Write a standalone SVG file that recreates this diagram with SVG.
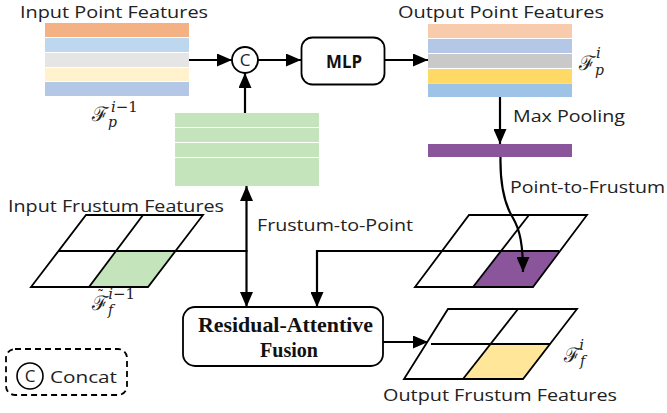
<svg xmlns="http://www.w3.org/2000/svg" width="667" height="413" viewBox="0 0 667 413">
<defs>
<marker id="ah" markerUnits="userSpaceOnUse" markerWidth="15" markerHeight="13" refX="15" refY="6.5" orient="auto-start-reverse" viewBox="0 0 15 13">
<path d="M0,0 L15,6.5 L0,13 z" fill="#000"/>
</marker>
<style>
.lbl{font-family:"Open Sans","Noto Sans",sans-serif;font-size:17px;fill:#222}
.mth{font-family:"DejaVu Serif","Liberation Serif",serif;fill:#222}
.grid{fill:none;stroke:#000;stroke-width:1.8;stroke-linejoin:miter}
.con{fill:none;stroke:#000;stroke-width:2.2}
.box{fill:#fff;stroke:#000;stroke-width:1.8}
.rf{font-family:"Liberation Serif",serif;font-weight:bold;font-size:21px;fill:#111}
</style>
</defs>
<rect width="667" height="413" fill="#fff"/>

<g id="input-point-features">
<text class="lbl" x="20" y="17.5" textLength="188" lengthAdjust="spacingAndGlyphs">Input Point Features</text>
<rect x="45" y="23" width="144" height="14" fill="#F4B183"/>
<rect x="45" y="38" width="144" height="14" fill="#BDD7EE"/>
<rect x="45" y="53" width="144" height="14" fill="#E5E5E5"/>
<rect x="45" y="68" width="144" height="13" fill="#FFF2CC"/>
<rect x="45" y="82" width="144" height="14" fill="#B4C7E7"/>
<text class="mth" x="92" y="121" font-size="20">ℱ<tspan font-size="14" font-style="italic" dy="6">p</tspan><tspan font-size="15" font-style="italic" dx="-6" dy="-15">i</tspan><tspan font-size="15">−1</tspan></text>
</g>

<g id="concat-op">
<circle cx="245" cy="60" r="13" fill="#fff" stroke="#000" stroke-width="1.8"/>
<text class="lbl" x="245" y="65.5" font-size="15" text-anchor="middle">C</text>
</g>

<g id="frustum-to-point-features">
<rect x="175" y="113" width="144" height="73" fill="#C4E5BC"/>
<line x1="175" y1="127.5" x2="319" y2="127.5" stroke="#fff" stroke-width="1"/>
<line x1="175" y1="142.5" x2="319" y2="142.5" stroke="#fff" stroke-width="1"/>
<line x1="175" y1="157.5" x2="319" y2="157.5" stroke="#fff" stroke-width="1"/>
</g>

<g id="mlp">
<rect class="box" x="301.5" y="37.5" width="83" height="47" rx="11"/>
<text x="344" y="67.5" font-family="Open Sans, Noto Sans, sans-serif" font-weight="bold" font-size="17" text-anchor="middle" fill="#111" textLength="36" lengthAdjust="spacingAndGlyphs">MLP</text>
</g>

<g id="output-point-features">
<text class="lbl" x="398" y="17.5" textLength="206" lengthAdjust="spacingAndGlyphs">Output Point Features</text>
<rect x="428" y="24" width="144" height="14" fill="#F8CBAD"/>
<rect x="428" y="39" width="144" height="14" fill="#B4C7E7"/>
<rect x="428" y="54" width="144" height="14" fill="#C9C9C9"/>
<rect x="428" y="69" width="144" height="14" fill="#FFD966"/>
<rect x="428" y="83.5" width="144" height="13.5" fill="#9DC3E6"/>
<text class="mth" x="579" y="70" font-size="20">ℱ<tspan font-size="14" font-style="italic" dy="5">p</tspan><tspan font-size="15" font-style="italic" dx="-8" dy="-17">i</tspan></text>
</g>

<g id="pooled-feature">
<rect x="428" y="144" width="144" height="13" fill="#8A559B"/>
<text class="lbl" x="513" y="122" textLength="112" lengthAdjust="spacingAndGlyphs">Max Pooling</text>
</g>

<g id="input-frustum-features">
<text class="lbl" x="8" y="211.5" textLength="216" lengthAdjust="spacingAndGlyphs">Input Frustum Features</text>
<polygon points="117,251 175,251 148,287 89,287" fill="#C4E5BC"/>
<polygon class="grid" points="86,215 203,215 148,287 31,287"/>
<line class="grid" x1="58" y1="251" x2="175" y2="251"/>
<line class="grid" x1="143" y1="215" x2="89" y2="287"/>
<text class="mth" x="97" y="301" font-size="14">˜</text>
<text class="mth" x="92" y="310" font-size="20">ℱ<tspan font-size="14" font-style="italic" dy="5">f</tspan><tspan font-size="15" font-style="italic" dx="-5" dy="-16">i</tspan><tspan font-size="15">−1</tspan></text>
</g>

<g id="point-to-frustum-features">
<polygon points="501,251 559,251 533,287 473,287" fill="#8A559B"/>
<polygon class="grid" points="469,215 587,215 533,287 415,287"/>
<line class="grid" x1="442" y1="251" x2="559" y2="251"/>
<line class="grid" x1="529" y1="215" x2="473" y2="287"/>
<text class="lbl" x="510" y="193" textLength="155" lengthAdjust="spacingAndGlyphs">Point-to-Frustum</text>
</g>

<g id="residual-attentive-fusion">
<rect class="box" x="183" y="307" width="200" height="59" rx="12"/>
<text class="rf" x="198" y="331.5" textLength="175" lengthAdjust="spacingAndGlyphs">Residual-Attentive</text>
<text class="rf" x="260" y="356.5" textLength="58" lengthAdjust="spacingAndGlyphs">Fusion</text>
</g>

<g id="output-frustum-features">
<polygon points="491,344 550,344 523,379 463,379" fill="#FFE699"/>
<polygon class="grid" points="448,309 577,309 523,379 404,379"/>
<line class="grid" x1="431" y1="344" x2="550" y2="344"/>
<line class="grid" x1="518" y1="309" x2="463" y2="379"/>
<text class="mth" x="564" y="362" font-size="20">ℱ<tspan font-size="14" font-style="italic" dy="4">f</tspan><tspan font-size="15" font-style="italic" dx="-6" dy="-16">i</tspan></text>
<text class="lbl" x="383" y="401" textLength="234" lengthAdjust="spacingAndGlyphs">Output Frustum Features</text>
</g>

<g id="legend">
<rect x="6" y="349" width="121" height="46" rx="9" fill="none" stroke="#000" stroke-width="1.8" stroke-dasharray="6,4"/>
<circle cx="30" cy="376" r="13" fill="none" stroke="#000" stroke-width="1.6"/>
<text class="lbl" x="30" y="382" font-size="17" text-anchor="middle">C</text>
<text class="lbl" x="50" y="382.5" textLength="67" lengthAdjust="spacingAndGlyphs">Concat</text>
</g>

<g id="connectors">
<line class="con" x1="189" y1="60" x2="232" y2="60" marker-end="url(#ah)"/>
<line class="con" x1="258" y1="60" x2="301" y2="60" marker-end="url(#ah)"/>
<line class="con" x1="385" y1="60" x2="428" y2="60" marker-end="url(#ah)"/>
<line class="con" x1="245" y1="113" x2="245" y2="73" marker-end="url(#ah)"/>
<line class="con" x1="500" y1="97" x2="500" y2="144" marker-end="url(#ah)"/>
<path class="con" d="M500.5,157 C500,185 505,205 513,218 C520,230 523,245 523,272" marker-end="url(#ah)"/>
<line class="con" x1="246.5" y1="186" x2="246.5" y2="307" marker-start="url(#ah)" marker-end="url(#ah)"/>
<line class="con" x1="175" y1="251" x2="247.5" y2="251"/>
<text class="lbl" x="257" y="231" textLength="156" lengthAdjust="spacingAndGlyphs">Frustum-to-Point</text>
<path class="con" d="M442,251 L317,251 L317,307" marker-end="url(#ah)"/>
<line class="con" x1="383" y1="342" x2="428" y2="342" marker-end="url(#ah)"/>
</g>
</svg>
